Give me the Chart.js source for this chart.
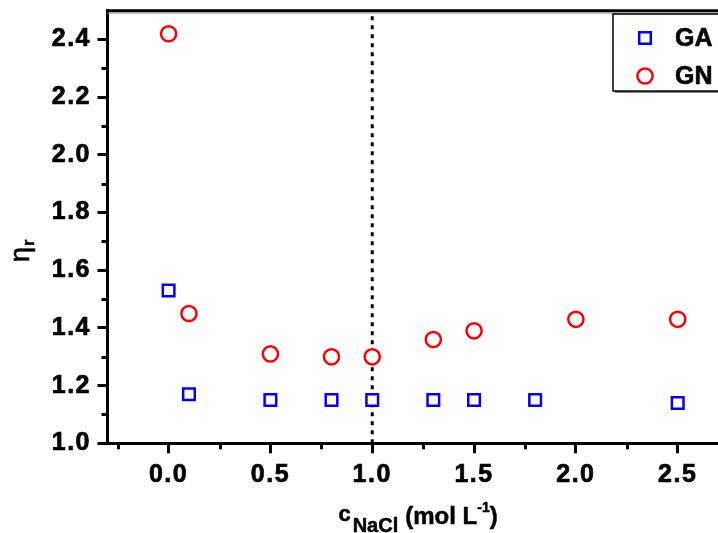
<!DOCTYPE html>
<html><head><meta charset="utf-8">
<script src="https://cdn.jsdelivr.net/npm/chart.js@4.4.1/dist/chart.umd.min.js"></script>
<style>html,body{margin:0;padding:0;overflow:hidden;background:#fff;width:718px;height:533px}canvas{display:block}</style>
</head><body>
<canvas id="c" width="760" height="533"></canvas>
<script>
// ---- data ----
const seriesLabels = ['GA', 'GN'];
const concGA = [0, 0.1, 0.5, 0.8, 1.0, 1.3, 1.5, 1.8, 2.5];
const etaGA  = [1.53, 1.17, 1.15, 1.15, 1.15, 1.15, 1.15, 1.15, 1.14];
const concGN = [0, 0.1, 0.5, 0.8, 1.0, 1.3, 1.5, 2.0, 2.5];
const etaGN  = [2.42, 1.45, 1.31, 1.30, 1.30, 1.36, 1.39, 1.43, 1.43];
const xTicks = [0, 0.5, 1.0, 1.5, 2.0, 2.5];
const xMinorTicks = [-0.25, 0.25, 0.75, 1.25, 1.75, 2.25, 2.75];
const yTicks = [1.0, 1.2, 1.4, 1.6, 1.8, 2.0, 2.2, 2.4];
const yMinorTicks = [1.1, 1.3, 1.5, 1.7, 1.9, 2.1, 2.3];
const xRange = [-0.3, 2.75];
const yRange = [1.0, 2.5];
const refLineX = 1.0;

const FAM = '"Liberation Sans", Arial, Helvetica, sans-serif';
const BLUE = '#0000ff', RED = '#ff0000';

const gaData = concGA.map((x, i) => ({x, y: etaGA[i]}));
const gnData = concGN.map((x, i) => ({x, y: etaGN[i]}));
const refData = [{x: refLineX, y: yRange[0]}, {x: refLineX, y: yRange[1]}];

function boldText(ctx, t, x, y, sw) {
  ctx.fillText(t, x, y);
  ctx.lineWidth = sw; ctx.strokeStyle = ctx.fillStyle; ctx.lineJoin = 'round';
  ctx.strokeText(t, x, y);
}

const framePlugin = {
  id: 'frame',
  beforeDraw(chart) { chart.ctx.letterSpacing = '1.5px'; },
  afterDraw(chart) {
    const ctx = chart.ctx, a = chart.chartArea;
    const xs = chart.scales.x, ys = chart.scales.y;
    ctx.save();
    ctx.letterSpacing = '0px';
    // top frame line (with faint shadow)
    ctx.strokeStyle = '#a0a0a0'; ctx.lineWidth = 1;
    ctx.beginPath(); ctx.moveTo(a.left, a.top + 2.5); ctx.lineTo(a.right, a.top + 2.5); ctx.stroke();
    ctx.strokeStyle = '#000'; ctx.lineWidth = 3;
    ctx.beginPath(); ctx.moveTo(a.left - 1.5, a.top); ctx.lineTo(a.right + 1.5, a.top); ctx.stroke();
    ctx.beginPath(); ctx.moveTo(a.right, a.top); ctx.lineTo(a.right, a.bottom); ctx.stroke();
    // minor ticks
    ctx.lineWidth = 3;
    xMinorTicks.forEach(v => {
      const p = Math.round(xs.getPixelForValue(v)) + 0.5;
      ctx.beginPath(); ctx.moveTo(p, a.bottom); ctx.lineTo(p, a.bottom + 6); ctx.stroke();
    });
    yMinorTicks.forEach(v => {
      const p = Math.round(ys.getPixelForValue(v)) + 0.5;
      ctx.beginPath(); ctx.moveTo(a.left, p); ctx.lineTo(a.left - 6, p); ctx.stroke();
    });
    // legend box
    const bx = 613, by = 14, bw = 140, bh = 77;
    ctx.fillStyle = '#808080';
    ctx.fillRect(bx + 2, by + bh, bw, 2);
    ctx.fillStyle = '#fff';
    ctx.fillRect(bx, by, bw, bh);
    ctx.strokeStyle = '#000'; ctx.lineWidth = 1.5;
    ctx.strokeRect(bx, by, bw, bh);
    const rows = [38, 76];
    chart.data.datasets.filter(d => seriesLabels.includes(d.label)).forEach((d, i) => {
      ctx.fillStyle = '#fff'; ctx.strokeStyle = d.borderColor; ctx.lineWidth = d.borderWidth;
      Chart.helpers.drawPoint(ctx, {pointStyle: d.pointStyle, radius: d.pointRadius, rotation: 0, borderWidth: d.borderWidth}, 645, rows[i]);
      ctx.fillStyle = '#000';
      ctx.font = 'bold 25px ' + FAM;
      ctx.textAlign = 'left'; ctx.textBaseline = 'middle';
      boldText(ctx, d.label, 675, rows[i] + 1, 0.6);
    });
    // x axis title: c_NaCl (mol L^-1)
    ctx.fillStyle = '#000'; ctx.textBaseline = 'alphabetic'; ctx.textAlign = 'left';
    const cx = (a.left + a.right) / 2;
    const parts = [
      {t: 'c', f: 'bold 22px ', dy: 521, gap: 2},
      {t: 'NaCl', f: 'bold 20px ', dy: 532, gap: 7},
      {t: '(mol L', f: 'bold 24px ', dy: 524, gap: 0},
      {t: '-1', f: 'bold 14px ', dy: 512, gap: 0},
      {t: ')', f: 'bold 24px ', dy: 524, gap: 0}
    ];
    let total = 0;
    parts.forEach(p => { ctx.font = p.f + FAM; p.w = ctx.measureText(p.t).width; total += p.w + p.gap; });
    let px = cx - total / 2;
    parts.forEach(p => { ctx.font = p.f + FAM; boldText(ctx, p.t, px, p.dy, 0.5); px += p.w + p.gap; });
    // y axis title: eta_r
    ctx.translate(29, 262);
    ctx.rotate(-Math.PI / 2);
    ctx.font = '27px ' + FAM;
    boldText(ctx, '\u03b7', 0, 0, 0.6);
    const ew = ctx.measureText('\u03b7').width;
    ctx.font = 'bold 17px ' + FAM;
    boldText(ctx, 'r', ew + 1, 5, 0.4);
    ctx.restore();
  }
};

new Chart(document.getElementById('c'), {
  type: 'scatter',
  data: {
    datasets: [
      {label: seriesLabels[0], data: gaData, pointStyle: 'rect', pointRadius: 8.2, borderWidth: 2.5,
       borderColor: BLUE, backgroundColor: '#fff', order: 1},
      {label: seriesLabels[1], data: gnData, pointStyle: 'circle', pointRadius: 7.6, borderWidth: 2.5,
       borderColor: RED, backgroundColor: '#fff', order: 1},
      {type: 'line', label: 'ref', data: refData, borderColor: '#000', borderWidth: 3, borderDash: [4, 5],
       pointRadius: 0, showLine: true, fill: false, order: 5}
    ]
  },
  options: {
    responsive: false,
    animation: false,
    events: [],
    layout: {padding: {top: 8.7, right: 31.4, bottom: 0, left: 0}},
    plugins: {legend: {display: false}, tooltip: {enabled: false}},
    scales: {
      x: {
        type: 'linear', min: xRange[0], max: xRange[1],
        afterFit: s => { s.height = 89.7; s.paddingLeft = 0; s.paddingRight = 0; },
        afterBuildTicks: s => { s.ticks = xTicks.map(v => ({value: v})); },
        grid: {drawOnChartArea: false, drawTicks: true, tickLength: 10, tickWidth: 3, tickColor: '#000'},
        border: {display: true, width: 3, color: '#000'},
        ticks: {color: '#000', padding: 7, autoSkip: false, maxRotation: 0,
          textStrokeColor: '#000', textStrokeWidth: 0.7,
          font: {family: FAM, size: 25, weight: 'bold'}, callback: v => Number(v).toFixed(1)}
      },
      y: {
        type: 'linear', min: yRange[0], max: yRange[1],
        afterFit: s => { s.width = 107.5; s.paddingTop = 0; s.paddingBottom = 0; },
        afterBuildTicks: s => { s.ticks = yTicks.map(v => ({value: v})); },
        grid: {drawOnChartArea: false, drawTicks: true, tickLength: 10, tickWidth: 3, tickColor: '#000'},
        border: {display: true, width: 3, color: '#000'},
        ticks: {color: '#000', padding: 6.5, autoSkip: false,
          textStrokeColor: '#000', textStrokeWidth: 0.7,
          font: {family: FAM, size: 25, weight: 'bold'}, callback: v => Number(v).toFixed(1)}
      }
    }
  },
  plugins: [framePlugin]
});
</script>
</body></html>
